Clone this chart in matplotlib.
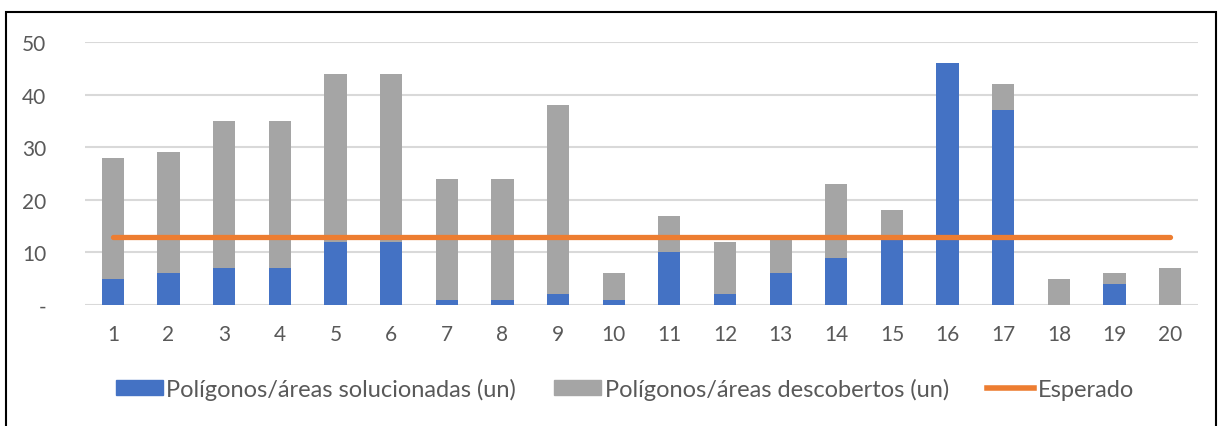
import matplotlib.pyplot as plt
from matplotlib.patches import Rectangle
from matplotlib.lines import Line2D
import numpy as np

# data
categorias = [str(i) for i in range(1, 21)]
solucionadas = [5, 6, 7, 7, 12, 12, 1, 1, 2, 1, 10, 2, 6, 9, 13, 46, 37, 0, 4, 0]
descobertos = [23, 23, 28, 28, 32, 32, 23, 23, 36, 5, 7, 10, 7, 14, 5, 0, 5, 5, 2, 7]
esperado = [13] * 20
y_ticks = [0, 10, 20, 30, 40, 50]
y_labels = ["-", "10", "20", "30", "40", "50"]

plt.rcParams['font.family'] = ['Lato', 'DejaVu Sans']

fig = plt.figure(figsize=(12.18, 4.27), dpi=100)
ax = fig.add_axes([0.0698, 0.2834, 0.9138, 0.6159])

x = np.arange(1, 21)
ax.bar(x, solucionadas, width=0.4, color="#4472C4", zorder=2,
       label="Polígonos/áreas solucionadas (un)")
ax.bar(x, descobertos, width=0.4, bottom=solucionadas, color="#A5A5A5", zorder=2,
       label="Polígonos/áreas descobertos (un)")
ax.plot(x, esperado, color="#ED7D31", linewidth=3.8, zorder=3, solid_capstyle="round",
        label="Esperado")

ax.set_xlim(0.5, 20.5)
ax.set_ylim(0, 50)
ax.set_xticks(x)
ax.set_xticklabels(categorias)
ax.set_yticks(y_ticks)
ax.set_yticklabels(y_labels)
ax.tick_params(length=0, labelsize=15, colors="#595959", pad=14)
ax.tick_params(axis="y", pad=28)
ax.grid(axis="y", color="#D9D9D9", linewidth=1.5, zorder=0)
for s in ax.spines.values():
    s.set_visible(False)

handles = [Rectangle((0, 0), 1, 1, color="#4472C4"),
           Rectangle((0, 0), 1, 1, color="#A5A5A5"),
           Line2D([0], [0], color="#ED7D31", linewidth=4)]
labels = ["Polígonos/áreas solucionadas (un)", "Polígonos/áreas descobertos (un)", "Esperado"]
fig.legend(handles, labels, loc="center", bbox_to_anchor=(0.513, 0.087), ncol=3,
           frameon=False, fontsize=17, labelcolor="#595959",
           handlelength=2.0, handleheight=0.6, handletextpad=0.15, columnspacing=1.6)

# outer border
fig.patches.append(Rectangle((6 / 1218, -0.05), 1210 / 1218, 1.05 - 13 / 427,
                             transform=fig.transFigure, fill=False,
                             edgecolor="black", linewidth=1.5))

fig.savefig("out.png", dpi=100)
